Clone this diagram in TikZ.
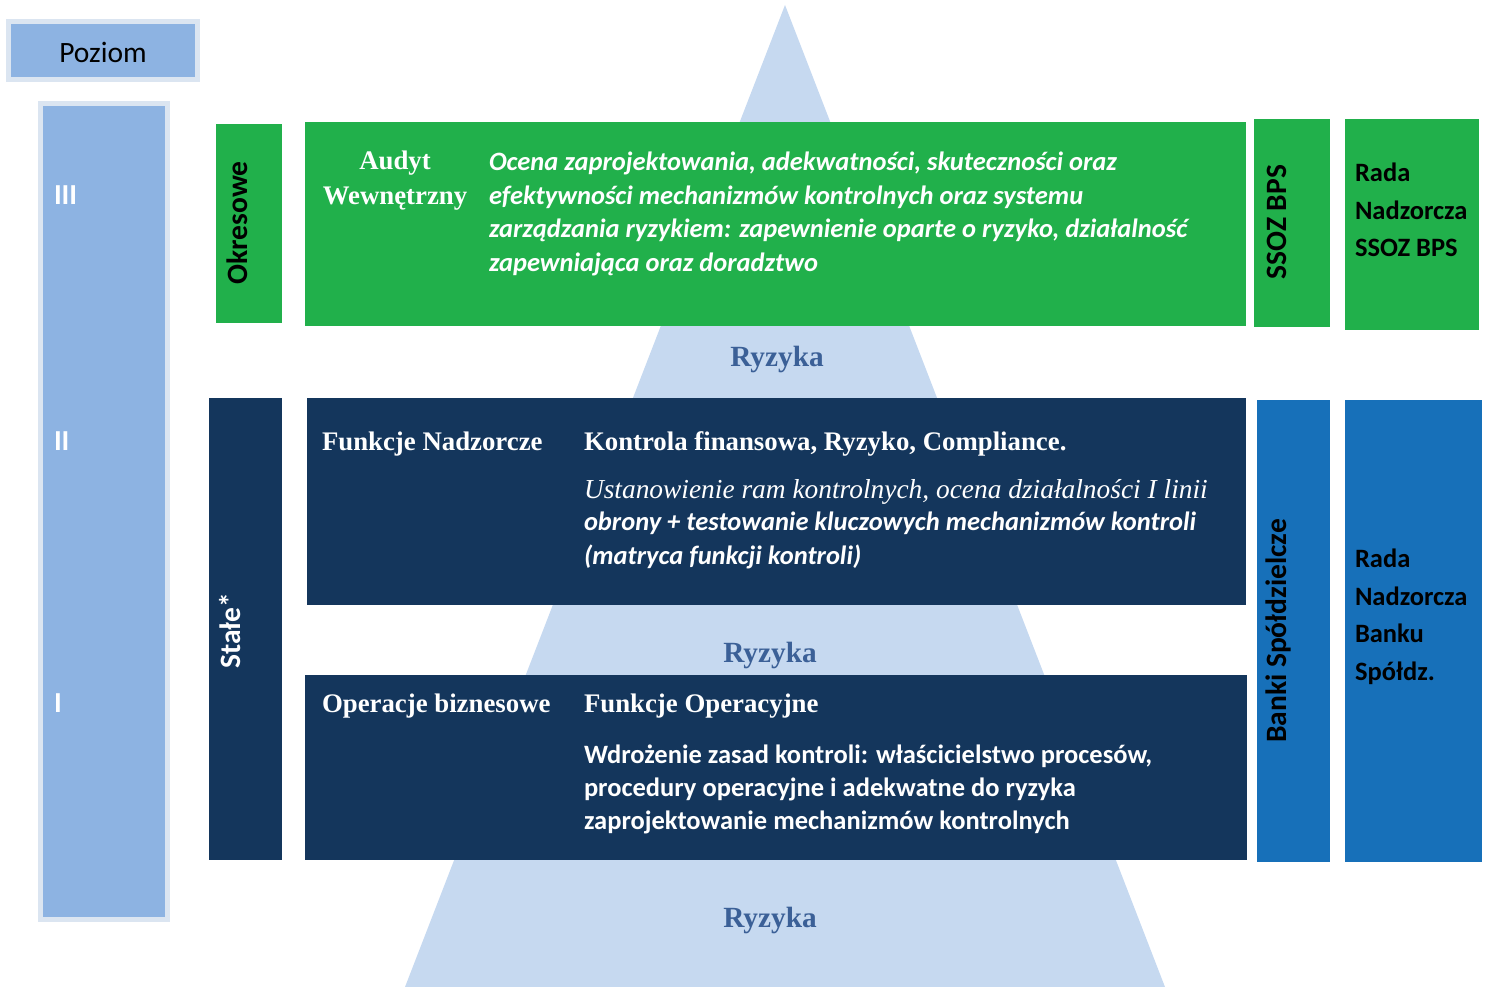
\documentclass[tikz,border=0pt]{standalone}
\usepackage{fontspec}
\setmainfont{Liberation Serif}
\newfontfamily\calfont{Carlito}
\definecolor{pyr}{HTML}{C6D9F0}
\definecolor{pozlight}{HTML}{DBE5F1}
\definecolor{pozmed}{HTML}{8DB3E2}
\definecolor{grn}{HTML}{21B04B}
\definecolor{navy}{HTML}{14365C}
\definecolor{blu}{HTML}{1770B9}
\definecolor{ryz}{HTML}{3B6097}
\begin{document}
\begin{tikzpicture}[x=1pt,y=-1pt,
  txt/.style={inner sep=0pt, outer sep=0pt},
  serifb/.style={txt, font=\fontsize{26.8}{35}\selectfont\bfseries},
  calbi/.style={txt, font=\calfont\fontsize{26.5}{33.5}\selectfont\bfseries\itshape, align=left},
  calb/.style={txt, font=\calfont\fontsize{26.5}{32.7}\selectfont\bfseries, align=left},
  rada/.style={txt, font=\calfont\fontsize{26.5}{37.5}\selectfont\bfseries, align=left, anchor=north west},
  vert/.style={txt, font=\calfont\fontsize{29.5}{30}\selectfont\bfseries, rotate=90},
  ryzlab/.style={txt, text=ryz, font=\fontsize{29.3}{30}\selectfont\bfseries},
  lvl/.style={txt, text=white, font=\calfont\fontsize{29}{30}\selectfont\bfseries, anchor=west}
]
\useasboundingbox (0,0) rectangle (1489,987);
% pyramid
\fill[pyr] (785,5) -- (1165,987) -- (405,987) -- cycle;
% Poziom
\fill[pozlight] (6,19) rectangle (200,82);
\fill[pozmed] (11,24) rectangle (195,77);
\node[txt, font=\calfont\fontsize{29.5}{30}\selectfont] (poziom) at (103,52) {Poziom};
% level column
\fill[pozlight] (38,101) rectangle (170,922);
\fill[pozmed] (43,106) rectangle (165,917);
\node[lvl] (l3) at (54,195) {III};
\node[lvl] (l2) at (54,441) {II};
\node[lvl] (l1) at (54,703) {I};
% green row
\fill[grn] (216,124) rectangle (282,323);
\node[vert] (okres) at (237,223) {Okresowe};
\fill[grn] (305,122) rectangle (1246,326);
\node[serifb, text=white, align=center, anchor=north] (audyt) at (395,151) {Audyt\\Wewnętrzny};
\node[calbi, text=white, anchor=north west] (ocena) at (489,152) {Ocena zaprojektowania, adekwatności, skuteczności oraz\\efektywności mechanizmów kontrolnych oraz systemu\\zarządzania ryzykiem: zapewnienie oparte o ryzyko, działalność\\zapewniająca oraz doradztwo};
\fill[grn] (1254,119) rectangle (1330,327);
\node[vert] (ssoz) at (1277,222) {SSOZ BPS};
\fill[grn] (1345,119) rectangle (1479,330);
\node[rada] (rada1) at (1355,163) {Rada\\Nadzorcza\\SSOZ BPS};
% Ryzyka labels
\node[ryzlab] (ryz1) at (777,359) {Ryzyka};
\node[ryzlab] (ryz2) at (770,655) {Ryzyka};
\node[ryzlab] (ryz3) at (770,920) {Ryzyka};
% navy rows
\fill[navy] (209,398) rectangle (282,860);
\node[vert, text=white] (stale) at (230,631) {Stałe*};
\fill[navy] (307,398) rectangle (1246,605);
\node[serifb, text=white, anchor=base west] (fn) at (322,450) {Funkcje Nadzorcze};
\node[serifb, text=white, anchor=base west] (kf) at (584,450) {Kontrola finansowa, Ryzyko, Compliance.};
\node[txt, text=white, anchor=base west, font=\fontsize{27.4}{30}\selectfont\itshape] (ust) at (584,498) {Ustanowienie ram kontrolnych, ocena działalności I linii};
\node[calbi, text=white, anchor=north west] (obr) at (584,512) {obrony + testowanie kluczowych mechanizmów kontroli\\(matryca funkcji kontroli)};
\fill[navy] (305,675) rectangle (1247,860);
\node[serifb, text=white, anchor=base west] (ob) at (322,712) {Operacje biznesowe};
\node[serifb, text=white, anchor=base west] (fo) at (584,712) {Funkcje Operacyjne};
\node[calb, text=white, anchor=north west] (wdr) at (584,745) {Wdrożenie zasad kontroli: właścicielstwo procesów,\\procedury operacyjne i adekwatne do ryzyka\\zaprojektowanie mechanizmów kontrolnych};
% blue column
\fill[blu] (1257,400) rectangle (1330,862);
\node[vert] (banki) at (1278,631) {Banki Spółdzielcze};
\fill[blu] (1345,400) rectangle (1482,862);
\node[rada] (rada2) at (1355,549) {Rada\\Nadzorcza\\Banku\\Spółdz.};
\end{tikzpicture}
\end{document}
